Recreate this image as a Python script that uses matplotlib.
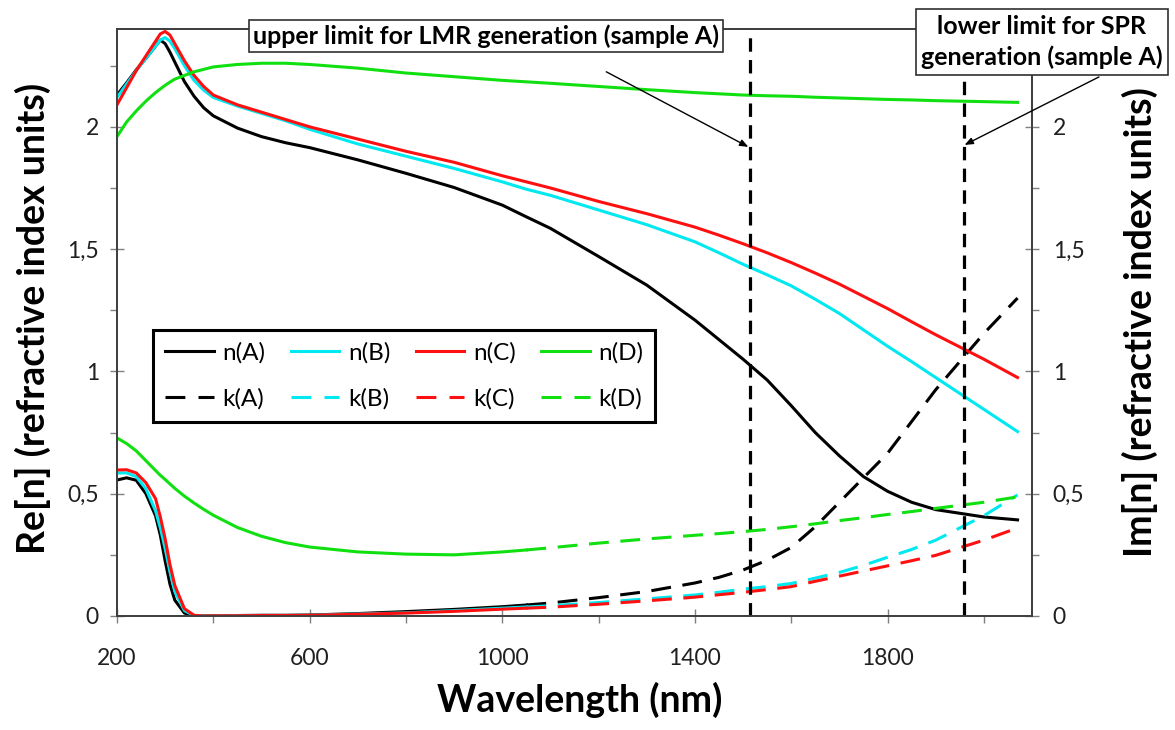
import numpy as np
import matplotlib
matplotlib.use("Agg")
import matplotlib.pyplot as plt
from matplotlib.lines import Line2D
from matplotlib.ticker import MultipleLocator, FuncFormatter

plt.rcParams['font.family'] = ['Lato', 'DejaVu Sans']

# longitud de onda (nm)
wl = [200, 220, 240, 260, 280, 290, 300, 310, 320, 340, 360, 380, 400, 450, 500,
      550, 600, 700, 800, 900, 1000, 1050, 1100, 1200, 1300, 1400, 1450, 1500, 1550,
      1600, 1650, 1700, 1750, 1800, 1850, 1900, 2000, 2070]

# parte real n
n_A = [2.13, 2.18, 2.233, 2.28, 2.33, 2.355, 2.34, 2.305, 2.265, 2.185, 2.125, 2.078, 2.045,
       1.995, 1.96, 1.935, 1.915, 1.865, 1.81, 1.752, 1.68, 1.632, 1.585, 1.47, 1.353,
       1.21, 1.13, 1.05, 0.965, 0.86, 0.75, 0.655, 0.57, 0.51, 0.465, 0.435, 0.405, 0.393]
n_B = [2.12, 2.175, 2.23, 2.28, 2.33, 2.355, 2.365, 2.35, 2.32, 2.25, 2.19, 2.15, 2.12,
       2.085, 2.055, 2.025, 1.99, 1.93, 1.88, 1.83, 1.775, 1.745, 1.72, 1.66, 1.60,
       1.53, 1.485, 1.438, 1.395, 1.35, 1.295, 1.237, 1.17, 1.103, 1.04, 0.975, 0.845, 0.754]
n_C = [2.09, 2.16, 2.23, 2.29, 2.35, 2.38, 2.39, 2.375, 2.34, 2.27, 2.21, 2.165, 2.13,
       2.09, 2.06, 2.03, 2.00, 1.95, 1.90, 1.855, 1.80, 1.775, 1.75, 1.695, 1.645,
       1.59, 1.557, 1.522, 1.485, 1.445, 1.402, 1.357, 1.307, 1.257, 1.203, 1.15, 1.05, 0.975]
n_D = [1.96, 2.02, 2.065, 2.105, 2.14, 2.155, 2.17, 2.183, 2.195, 2.21, 2.225, 2.235, 2.245,
       2.255, 2.26, 2.26, 2.255, 2.24, 2.22, 2.205, 2.19, 2.184, 2.178, 2.165, 2.152,
       2.14, 2.135, 2.13, 2.127, 2.125, 2.121, 2.118, 2.115, 2.112, 2.11, 2.107, 2.103, 2.10]

# parte imaginaria k
k_A = [0.556, 0.565, 0.555, 0.50, 0.41, 0.33, 0.225, 0.13, 0.065, 0.012, 0.0, 0.0, 0.001,
       0.002, 0.003, 0.003, 0.004, 0.01, 0.018, 0.027, 0.038, 0.045, 0.053, 0.075, 0.10,
       0.135, 0.158, 0.188, 0.228, 0.28, 0.365, 0.465, 0.565, 0.665, 0.795, 0.925, 1.155, 1.30]
k_B = [0.585, 0.585, 0.57, 0.52, 0.43, 0.36, 0.275, 0.18, 0.10, 0.022, 0.002, 0.0, 0.001,
       0.001, 0.002, 0.002, 0.003, 0.008, 0.013, 0.022, 0.032, 0.037, 0.042, 0.055, 0.07,
       0.086, 0.097, 0.11, 0.12, 0.133, 0.155, 0.178, 0.207, 0.24, 0.272, 0.31, 0.41, 0.495]
k_C = [0.597, 0.598, 0.585, 0.545, 0.48, 0.405, 0.315, 0.21, 0.125, 0.03, 0.003, 0.0, 0.001,
       0.001, 0.002, 0.002, 0.003, 0.007, 0.012, 0.019, 0.028, 0.032, 0.036, 0.048, 0.062,
       0.077, 0.087, 0.097, 0.108, 0.12, 0.142, 0.163, 0.184, 0.205, 0.226, 0.248, 0.31, 0.36]
k_D = [0.728, 0.705, 0.675, 0.635, 0.595, 0.575, 0.558, 0.54, 0.522, 0.49, 0.462, 0.436, 0.412,
       0.362, 0.326, 0.30, 0.282, 0.262, 0.253, 0.25, 0.262, 0.27, 0.279, 0.298, 0.315,
       0.33, 0.337, 0.345, 0.354, 0.365, 0.377, 0.39, 0.402, 0.415, 0.427, 0.44, 0.465, 0.487]

labels = ['A', 'B', 'C', 'D']
colors = ['black', '#00e8f0', '#ff1010', '#10e010']

# limites
lmr_limit = 1515
spr_limit = 1958

W, H = 1175, 730
fig = plt.figure(figsize=(W / 100, H / 100), dpi=100)
ax = fig.add_axes([117 / W, 1 - 616 / H, (1032 - 117) / W, (616 - 29) / H])

wl_a = np.array(wl)
solid = wl_a <= 1050
dash = wl_a >= 1050
lw = 2.2
kdash = (6.5, 3.8)
handles = []
for lab, c, n, k in zip(labels, colors, [n_A, n_B, n_C, n_D], [k_A, k_B, k_C, k_D]):
    n = np.array(n)
    k = np.array(k)
    ax.plot(wl_a, n, color=c, lw=lw, zorder=3)
    # en la region densa los trazos se ven continuos
    ax.plot(wl_a[solid], k[solid], color=c, lw=lw, zorder=3)
    ax.plot(wl_a[dash], k[dash], color=c, lw=lw, dashes=kdash, zorder=3)
    handles.append(Line2D([], [], color=c, lw=lw, label=f'n({lab})'))
    handles.append(Line2D([], [], color=c, lw=lw, dashes=(6.5, 4.3), label=f'k({lab})'))

for xv in [lmr_limit, spr_limit]:
    ax.axvline(xv, color='black', lw=2.3, dashes=(4.2, 2.6), zorder=4)

ax.set_xlim(200, 2100)
ax.set_ylim(0, 2.4)

fmt = FuncFormatter(lambda v, p: f'{v:g}'.replace('.', ','))
ax.set_xticks([200, 600, 1000, 1400, 1800])
ax.set_xticks([400, 800, 1200, 1600, 2000], minor=True)
ax.yaxis.set_major_locator(MultipleLocator(0.5))
ax.yaxis.set_minor_locator(MultipleLocator(0.25))
ax.yaxis.set_major_formatter(fmt)

ax2 = ax.twinx()
ax2.set_ylim(0, 2.4)
ax2.yaxis.set_major_locator(MultipleLocator(0.5))
ax2.yaxis.set_minor_locator(MultipleLocator(0.25))
ax2.yaxis.set_major_formatter(fmt)

for a in [ax, ax2]:
    for s in a.spines.values():
        s.set_color('#404040')
        s.set_linewidth(1.3)
    a.tick_params(which='major', direction='inout', length=10, width=1, color='#808080',
                  labelsize=16.5, labelcolor='#202020')
    a.tick_params(which='minor', direction='out', length=5, width=1, color='#808080')
ax.tick_params(axis='x', which='major', pad=18)
ax.tick_params(axis='y', which='major', pad=8)
ax2.tick_params(axis='y', which='major', pad=10)

leg = ax.legend(handles=handles, ncol=4, loc='upper left',
                bbox_to_anchor=(153 / W, 1 - 330 / H), bbox_transform=fig.transFigure,
                borderaxespad=0, fontsize=17.5, handlelength=2.0, handletextpad=0.35,
                columnspacing=1.05, labelspacing=1.0, fancybox=False, framealpha=1,
                borderpad=0.5)
leg.get_frame().set_edgecolor('black')
leg.get_frame().set_linewidth(2.2)
leg.set_zorder(5)

fig.text(580 / W, 1 - 700 / H, 'Wavelength (nm)', ha='center', va='center',
         fontsize=27, fontweight='bold')
fig.text(33 / W, 1 - 318 / H, 'Re[n] (refractive index units)', ha='center', va='center',
         rotation=90, fontsize=27, fontweight='bold')
fig.text(1140 / W, 1 - 322 / H, 'Im[n] (refractive index units)', ha='center', va='center',
         rotation=90, fontsize=27, fontweight='bold')

box = dict(boxstyle='square,pad=0.15', fc='white', ec='#303030', lw=1.2)
fig.text(486 / W, 1 - 36 / H, 'upper limit for LMR generation (sample A)', ha='center',
         va='center', fontsize=18, fontweight='bold', bbox=box, zorder=10)
fig.text(1042 / W, 1 - 42 / H, 'lower limit for SPR\ngeneration (sample A)', ha='center',
         va='center', fontsize=18, fontweight='bold', linespacing=1.4, zorder=10,
         bbox=dict(boxstyle='square,pad=0.22', fc='white', ec='#303030', lw=1.2))

arrow = dict(arrowstyle='-|>,head_length=0.5,head_width=0.2', color='black', lw=1,
             shrinkA=0, shrinkB=0)
ax2.annotate('', xy=(1511, 1.918), xytext=(1216, 2.225), arrowprops=arrow,
             annotation_clip=False)
ax2.annotate('', xy=(1960, 1.926), xytext=(2239, 2.204), arrowprops=arrow,
             annotation_clip=False)

fig.savefig('out.png', dpi=100)
